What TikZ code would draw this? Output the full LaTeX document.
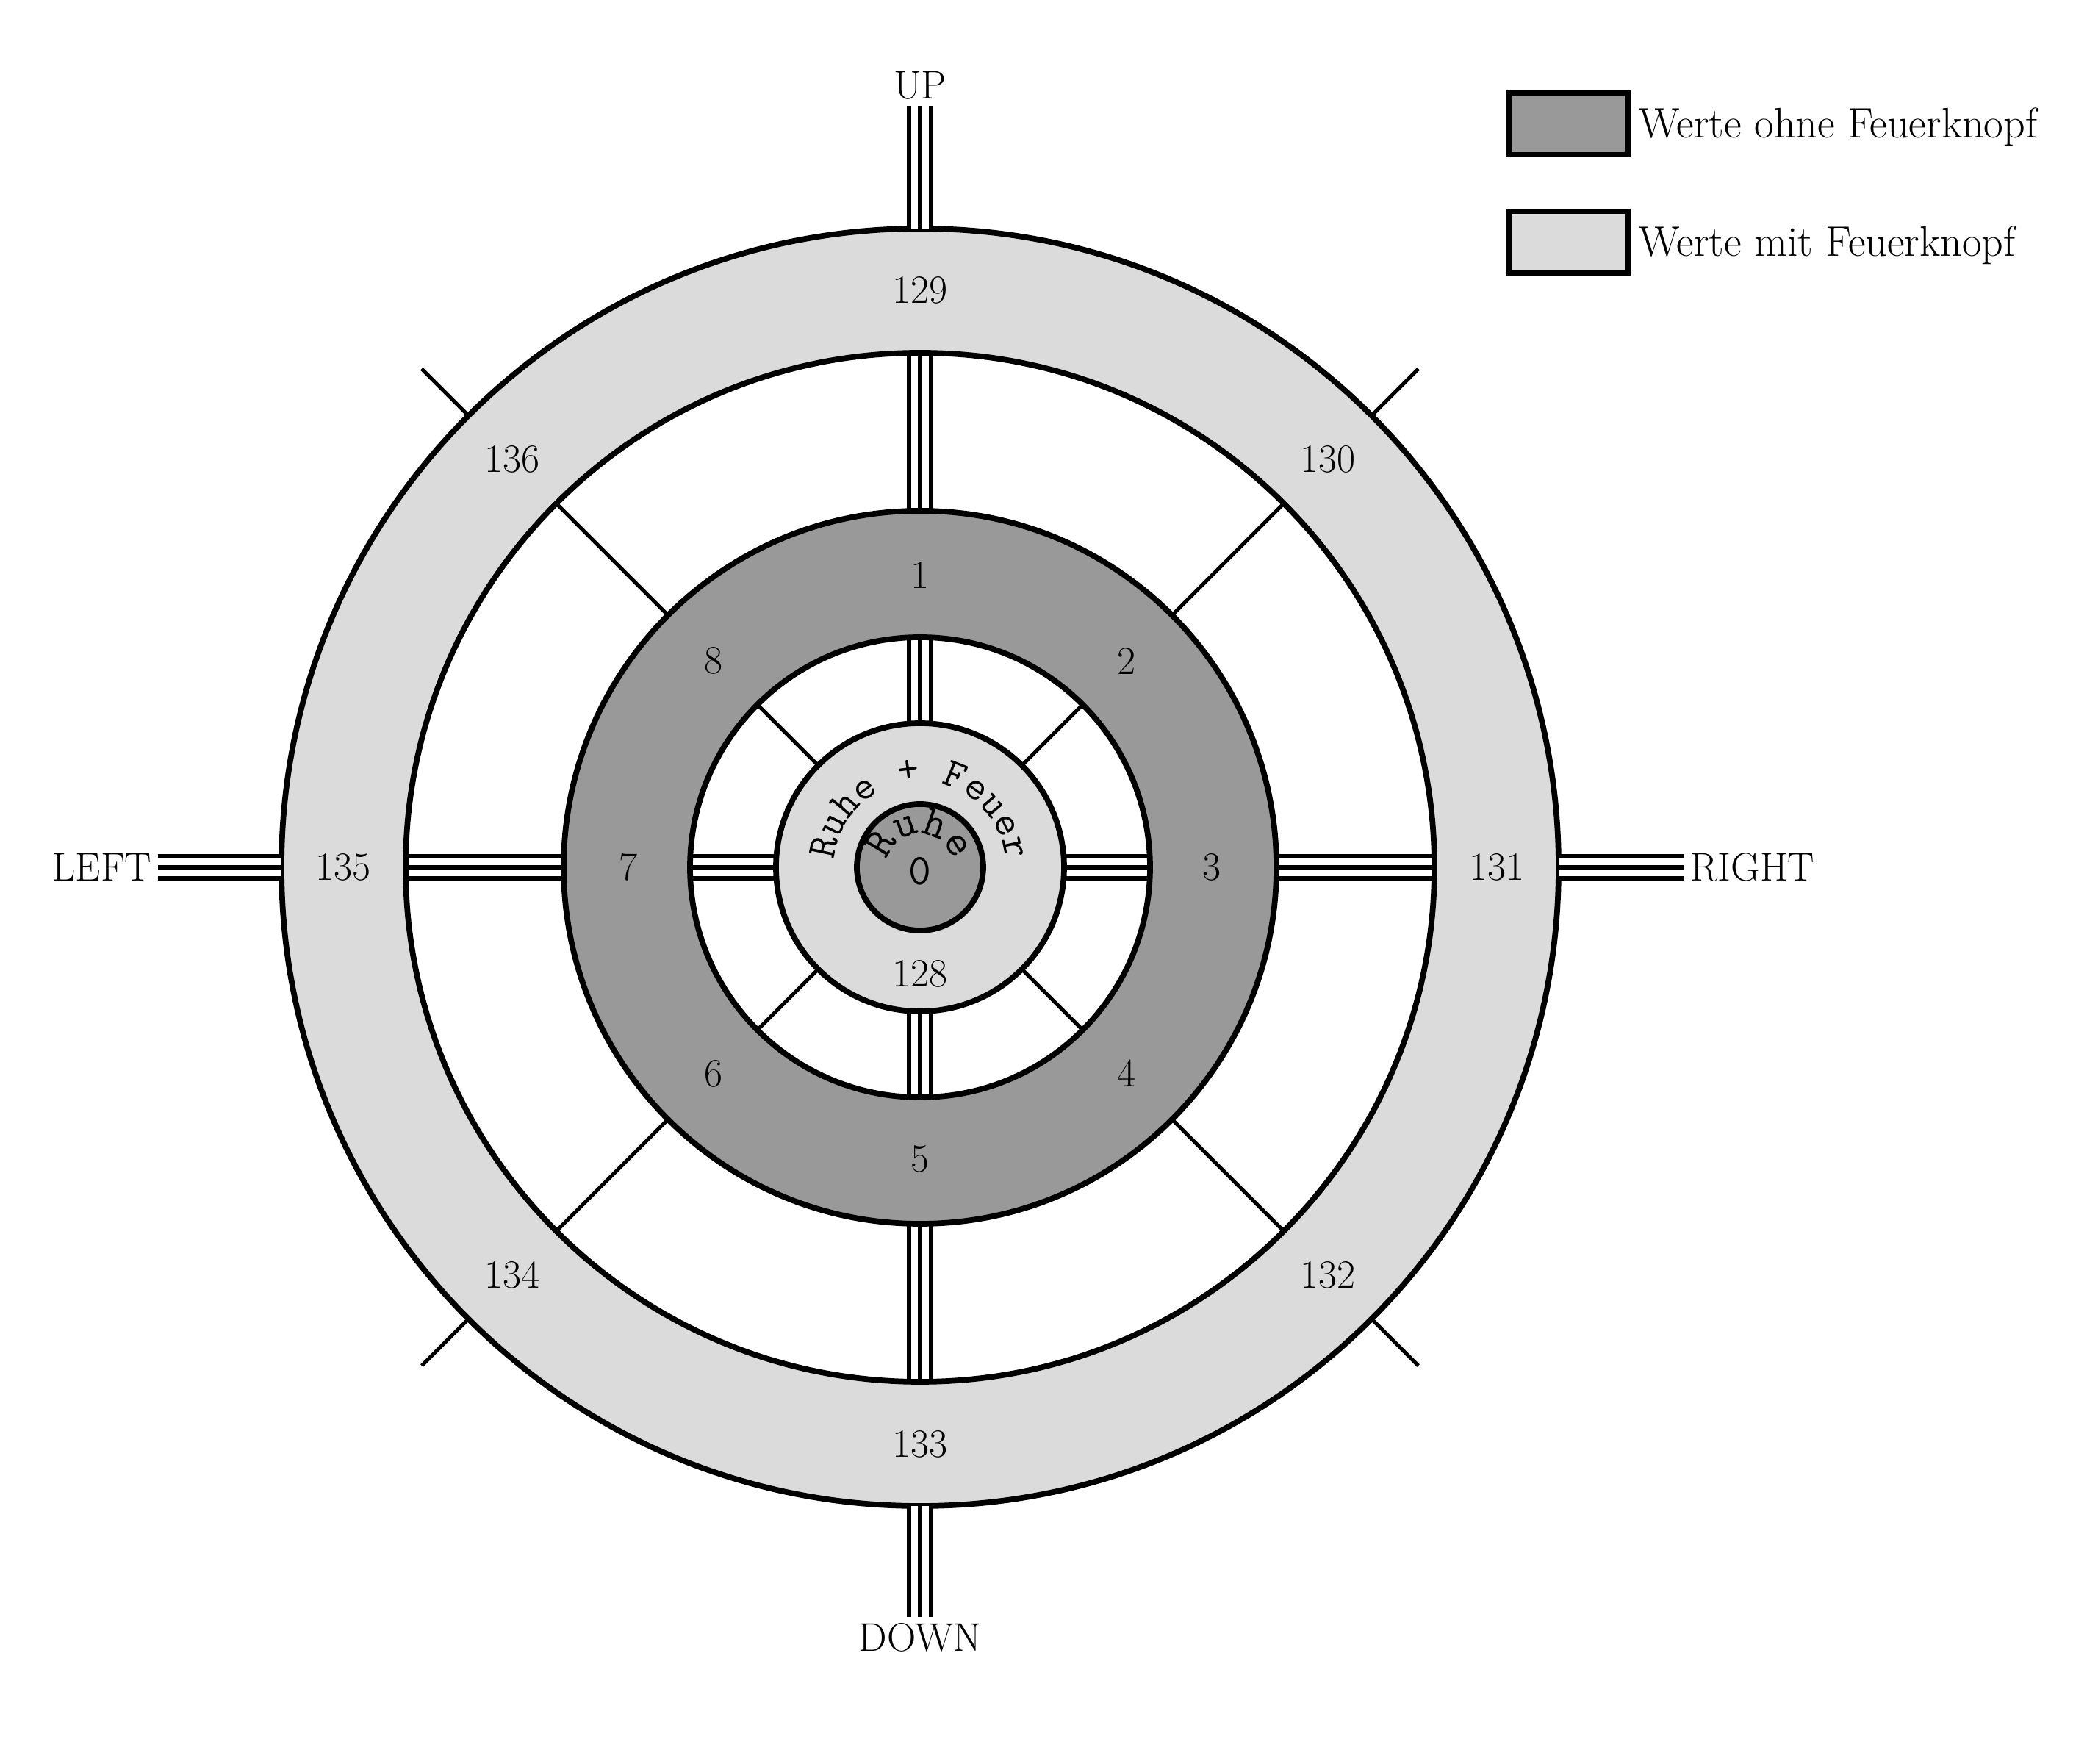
\documentclass[tikz,border=0pt]{standalone}
\usetikzlibrary{positioning,decorations.text}
\definecolor{darkring}{gray}{0.6}
\definecolor{lightring}{gray}{0.86}
\newcommand{\hubfont}{\ttfamily\fontsize{16}{19}\selectfont}
\newcommand{\corefont}{\ttfamily\fontsize{17}{20}\selectfont}

\begin{document}
\begin{tikzpicture}[font=\fontsize{15.5}{18}\selectfont,
  ring/.style={line width=2.2pt},
  spoke/.style={line width=1.5pt},
  triple/.style={line width=0.36cm,
    postaction={draw,white,line width=0.24cm},
    postaction={draw,black,line width=0.06cm}},
  lab/.style={inner sep=0.08cm},
  keybox/.style={draw,line width=2pt,minimum width=1.62cm,minimum height=0.84cm,inner sep=0pt},
  keytext/.style={font=\fontsize{16.5}{19}\selectfont}]
  \useasboundingbox (-12.52,-12.20) rectangle (15.88,11.80);

  \fill[lightring] (0,0) circle[radius=8.69];
  \fill[white] (0,0) circle[radius=7.00];
  \fill[darkring] (0,0) circle[radius=4.85];
  \fill[white] (0,0) circle[radius=3.13];
  \fill[lightring] (0,0) circle[radius=1.96];
  \fill[darkring] (0,0) circle[radius=0.86];

  \foreach \a in {0,90,180,270} {
    \draw[triple] (\a:4.85) -- (\a:7.00);
    \draw[triple] (\a:1.96) -- (\a:3.13);
  }
  \foreach \a in {45,135,225,315} {
    \draw[spoke] (\a:4.85) -- (\a:7.00);
    \draw[spoke] (\a:1.96) -- (\a:3.13);
    \draw[spoke] (\a:8.69) -- (\a:9.59);
  }
  \foreach \r in {8.69,7.00,4.85,3.13,1.96,0.86}
    \draw[ring] (0,0) circle[radius=\r];

  \coordinate (o-up) at (90:8.69);
  \coordinate (o-down) at (270:8.69);
  \coordinate (o-left) at (180:8.69);
  \coordinate (o-right) at (0:8.69);
  \node[lab,anchor=south] (up) at (0,10.36) {UP};
  \node[lab,anchor=north] (down) at (0,-10.20) {DOWN};
  \node[lab,anchor=east] (left) at (-10.37,0) {LEFT};
  \node[lab,anchor=west] (right) at (10.40,0) {RIGHT};
  \draw[triple] (o-up) -- (up);
  \draw[triple] (o-down) -- (down);
  \draw[triple] (o-left) -- (left);
  \draw[triple] (o-right) -- (right);

  \node (n129) at (90:7.85) {129};
  \node (n130) at (45:7.85) {130};
  \node (n131) at (0:7.85) {131};
  \node (n132) at (-45:7.85) {132};
  \node (n133) at (-90:7.85) {133};
  \node (n134) at (-135:7.85) {134};
  \node (n135) at (180:7.85) {135};
  \node (n136) at (135:7.85) {136};

  \node (n1) at (90:3.97) {1};
  \node (n2) at (45:3.97) {2};
  \node (n3) at (0:3.97) {3};
  \node (n4) at (-45:3.97) {4};
  \node (n5) at (-90:3.97) {5};
  \node (n6) at (-135:3.97) {6};
  \node (n7) at (180:3.97) {7};
  \node (n8) at (135:3.97) {8};

  \node (n128) at (0,-1.45) {128};
  \node[font=\corefont,inner sep=0pt] (n0) at (0,-0.05) {0};
  \path[decorate,decoration={text along path,text={|\hubfont|Ruhe + Feuer},text align=center}]
    (185:1.17) arc[start angle=185,end angle=-5,radius=1.17];
  \path[decorate,decoration={text along path,text={|\corefont|Ruhe},text align=center}]
    (175:0.45) arc[start angle=175,end angle=5,radius=0.45];

  \node[keybox,fill=darkring] (kdark) at (8.82,10.11) {};
  \node[keytext,right=0cm of kdark,yshift=-0.04cm] (tdark) {Werte ohne Feuerknopf};
  \node[keybox,fill=lightring] (klight) at (8.82,8.505) {};
  \node[keytext,right=0cm of klight,yshift=-0.04cm] (tlight) {Werte mit Feuerknopf};
\end{tikzpicture}
\end{document}
